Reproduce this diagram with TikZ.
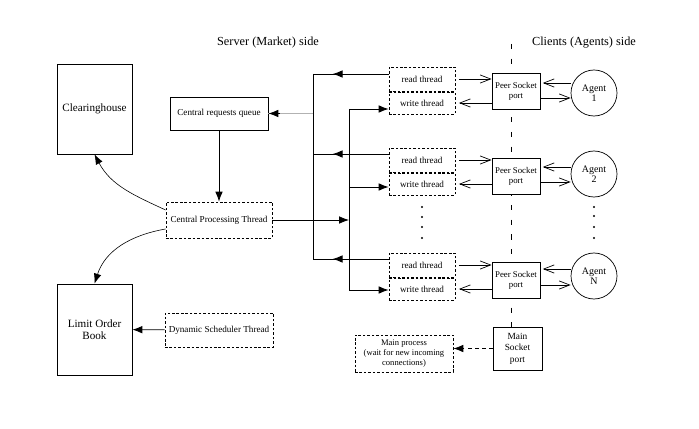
\documentclass[tikz,border=0pt]{standalone}
\usepackage{fontspec}
\setmainfont{Liberation Serif}
\usetikzlibrary{arrows.meta, decorations.markings}

\begin{document}
\begin{tikzpicture}[x=0.03cm, y=-0.03cm,
	box/.style={draw, line width=0.7pt, fill=white, align=center, inner sep=1pt},
	thread/.style={box, dash pattern=on 2.2pt off 1.6pt},
	small/.style={font=\fontsize{7.8}{9}\selectfont},
	fa/.style={-{Latex[length=8.5pt,width=6.5pt]}, line width=0.7pt},
	oa/.style={-{Straight Barb[length=9pt,width=7pt]}, line width=0.6pt},
	mida/.style={line width=0.7pt, postaction={decorate}, decoration={markings,
		mark=at position 0.74 with {\arrow{Latex[length=8.5pt,width=6.5pt]}}}}]
	\useasboundingbox (0,0) rectangle (699,429);
	% the border between the two sides
	\draw[line width=0.8pt, dash pattern=on 4.5pt off 8pt] (511,44) -- (511,376);
	\node (srv) at (268,43) {\fontsize{10.5}{12}\selectfont Server (Market) side};
	\node (cli) at (584,43) {\fontsize{10.5}{12}\selectfont Clients (Agents) side};
	% server side
	\node[box, minimum width=2.25cm, minimum height=2.7cm, font=\fontsize{9.5}{10.5}\selectfont] (clear) at (94.5,109) {Clearinghouse};
	\node[box, minimum width=2.25cm, minimum height=2.73cm, font=\fontsize{9.5}{10.5}\selectfont] (lob) at (94.5,329.5) {Limit Order\\Book};
	\node[box, small, minimum width=2.94cm, minimum height=0.99cm] (crq) at (219,113.5) {Central requests queue};
	\node[thread, small, minimum width=3.18cm, minimum height=1.08cm] (cpt) at (219,220) {Central Processing Thread};
	\node[thread, small, minimum width=3.24cm, minimum height=1.02cm] (dst) at (219,330) {Dynamic Scheduler Thread};
	\draw[fa] (crq) -- (cpt);
	\draw[fa, line width=0.5pt] (cpt.west |- 0,210) to[out=155,in=-62] (clear.south);
	\draw[fa, line width=0.5pt] (cpt.west |- 0,229) to[out=190,in=72] (lob.north);
	\draw[fa] (dst) -- (lob);
	% threads
	\node[thread, small, minimum width=1.98cm, minimum height=0.72cm] (read1) at (422,79) {read thread};
	\node[thread, small, minimum width=1.98cm, minimum height=0.66cm] (write1) at (422,103) {write thread};
	\node[thread, small, minimum width=1.98cm, minimum height=0.72cm] (read2) at (422,160) {read thread};
	\node[thread, small, minimum width=1.98cm, minimum height=0.66cm] (write2) at (422,184) {write thread};
	\node[thread, small, minimum width=1.98cm, minimum height=0.72cm] (read3) at (422,265) {read thread};
	\node[thread, small, minimum width=1.98cm, minimum height=0.66cm] (write3) at (422,289) {write thread};
	\foreach \y in {207,217,227,238} \fill (422,\y) circle (1pt);
	% the two buses
	\coordinate (lt) at (313,74);
	\coordinate (lb) at (313,259);
	\coordinate (rt) at (349,109);
	\coordinate (rb) at (349,290);
	\draw[line width=0.7pt] (lt) -- (lb);
	\draw[line width=0.7pt] (rt) -- (rb);
	\draw[mida] (read1.west |- lt) -- (lt);
	\draw[mida] (read2.west |- 0,154) -- (lt |- 0,154);
	\draw[mida] (read3.west |- lb) -- (lb);
	\draw[fa] (rt) -- (write1.west |- rt);
	\draw[fa] (rt |- 0,187) -- (write2.west |- 0,187);
	\draw[fa] (rb) -- (write3.west |- rb);
	\draw[gray!60, line width=1.6pt] (lt |- crq.east) -- (crq.east);
	\draw[fa] ([xshift=10pt]crq.east) -- (crq.east);
	\draw[fa] (cpt.east) -- (rt |- cpt.east);
	% sockets
	\node[box, minimum width=1.44cm, minimum height=1.08cm, font=\fontsize{7.5}{8.5}\selectfont] (peer1) at (516,91) {Peer Socket\\port};
	\node[box, minimum width=1.44cm, minimum height=1.08cm, font=\fontsize{7.5}{8.5}\selectfont] (peer2) at (516,176.5) {Peer Socket\\port};
	\node[box, minimum width=1.44cm, minimum height=1.08cm, font=\fontsize{7.5}{8.5}\selectfont] (peer3) at (516,280) {Peer Socket\\port};
	\draw[oa, shorten <=3pt] (read1.east) -- (read1.east -| peer1.west);
	\draw[oa, shorten >=3pt] (write1.east -| peer1.west) -- (write1.east);
	\draw[oa, shorten <=3pt] (read2.east) -- (read2.east -| peer2.west);
	\draw[oa, shorten >=3pt] (write2.east -| peer2.west) -- (write2.east);
	\draw[oa, shorten <=3pt] (read3.east) -- (read3.east -| peer3.west);
	\draw[oa, shorten >=3pt] (write3.east -| peer3.west) -- (write3.east);
	% agents
	\node[draw, circle, line width=0.6pt, minimum size=1.38cm, inner sep=0pt, align=center, font=\fontsize{8.5}{7}\selectfont] (agent1) at (594,93) {Agent\\1};
	\node[draw, circle, line width=0.6pt, minimum size=1.38cm, inner sep=0pt, align=center, font=\fontsize{8.5}{7}\selectfont] (agent2) at (594,174) {Agent\\2};
	\node[draw, circle, line width=0.6pt, minimum size=1.38cm, inner sep=0pt, align=center, font=\fontsize{8.5}{7}\selectfont] (agent3) at (594,276) {Agent\\N};
	\foreach \y in {207,216,227,238} \fill (594,\y) circle (1pt);
	\draw[oa, shorten >=2pt] (agent1.west |- 0,83) -- (peer1.east |- 0,83);
	\draw[oa] (peer1.east |- 0,98) -- (agent1.west |- 0,98);
	\draw[oa, shorten >=2pt] (agent2.west |- 0,167) -- (peer2.east |- 0,167);
	\draw[oa] (peer2.east |- 0,182) -- (agent2.west |- 0,182);
	\draw[oa, shorten >=2pt] (agent3.west |- 0,269) -- (peer3.east |- 0,269);
	\draw[oa] (peer3.east |- 0,285) -- (agent3.west |- 0,285);
	% main process
	\node[thread, minimum width=2.94cm, minimum height=1.11cm, font=\fontsize{7.3}{8.5}\selectfont] (main) at (404,353.5) {Main process\\(wait for new incoming\\connections)};
	\node[box, minimum width=1.47cm, minimum height=1.29cm, font=\fontsize{8}{9.8}\selectfont] (msock) at (517.5,348.5) {Main\\Socket\\port};
	\draw[fa, dashed] (msock.west) -- (msock.west -| main.east);
\end{tikzpicture}
\end{document}
